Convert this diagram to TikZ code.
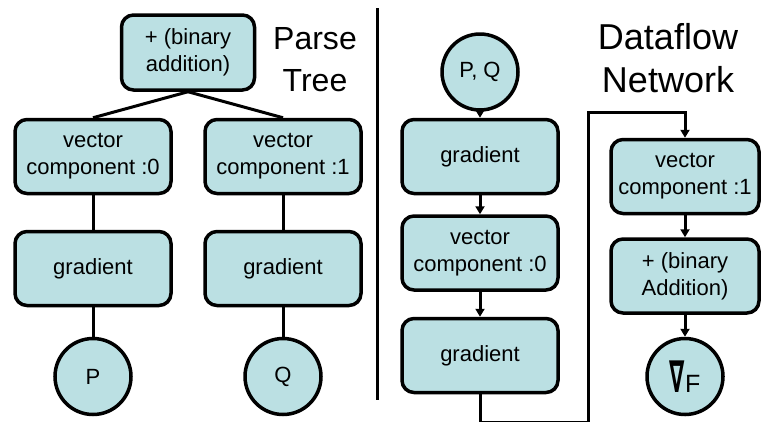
\documentclass[tikz,border=0pt]{standalone}
\usepackage{fontspec}
\setmainfont{Liberation Sans}
\newfontfamily\nablafont{DejaVu Sans}
\usepackage{graphicx}
\definecolor{paleteal}{RGB}{187, 224, 227}
\usetikzlibrary{arrows.meta, positioning}
\tikzset{
  opnode/.style={rectangle, rounded corners=12pt, draw=black, fill=paleteal, line width=3.5pt, minimum width=156pt, minimum height=74pt, inner sep=2pt, align=center, font=\fontsize{22}{27}\selectfont},
  varnode/.style={circle, draw=black, fill=paleteal, line width=3.5pt, minimum size=76pt, inner sep=0pt, font=\fontsize{22}{27}\selectfont},
  heading/.style={align=center, inner sep=0pt},
  flowarrow/.style={line width=3pt, -{Triangle[length=8pt, width=9pt]}},
}

\begin{document}
\begin{tikzpicture}[x=1pt, y=-1pt,
  level 1/.style={level distance=104pt, sibling distance=190pt},
  level 2/.style={level distance=112pt},
  level 3/.style={level distance=108pt},
  edge from parent/.style={draw, line width=3pt},
  edge from parent path={(\tikzparentnode.south) -- (\tikzchildnode.north)}]
\useasboundingbox (0,0) rectangle (762,421);
\clip (0,0) rectangle (762,421);

\node[opnode, minimum width=133pt, minimum height=75pt] (sum) at (188,52.5) {+ (binary\\addition)}
  child {
    node[opnode] (comp0) {vector\\component :0}
    child {
      node[opnode] (grad0) {gradient}
      child { node[varnode] (p) {P} }
    }
  }
  child {
    node[opnode] (comp1) {vector\\component :1}
    child {
      node[opnode] (grad1) {gradient}
      child { node[varnode] (q) {Q} }
    }
  };
\node[heading, font=\fontsize{32}{42}\selectfont] (parsetitle) at (315,59.5) {Parse\\Tree};

\draw[line width=3pt] (377,8) -- (377,400);

\node[varnode] (pq) at (480,72) {P, Q};
\node[opnode, below=6pt of pq] (dfgrad0) {gradient};
\node[opnode, below=19pt of dfgrad0] (dfcomp0) {vector\\component :0};
\node[opnode, below=25pt of dfcomp0] (dfgrad1) {gradient};
\node[heading, font=\fontsize{36}{43}\selectfont] (flowtitle) at (668,58) {Dataflow\\Network};

\node[opnode, minimum width=148pt] (dfcomp1) at (685,176.5) {vector\\component :1};
\node[opnode, minimum width=148pt, below=22pt of dfcomp1] (dfsum) {+ (binary\\Addition)};
\node[varnode, below=22pt of dfsum] (gradf) {{\nablafont\bfseries\fontsize{44}{44}\selectfont\scalebox{0.5}[1]{∇}}{\fontsize{25}{25}\selectfont F}};

\coordinate (loopcorner) at (588,422.3);
\coordinate (looptop) at (685,112);
\draw[flowarrow] (pq) -- (dfgrad0);
\draw[flowarrow] (dfgrad0) -- (dfcomp0);
\draw[flowarrow] (dfcomp0) -- (dfgrad1);
\draw[flowarrow] (dfgrad1.south) |- (loopcorner) |- (looptop) -- (dfcomp1.north);
\draw[flowarrow] (dfcomp1) -- (dfsum);
\draw[flowarrow] (dfsum) -- (gradf);
\end{tikzpicture}
\end{document}
